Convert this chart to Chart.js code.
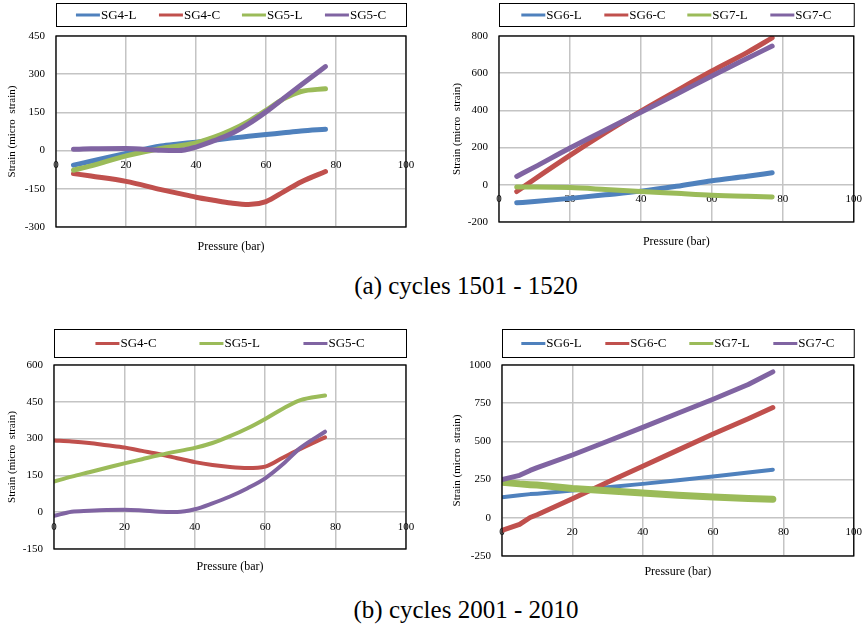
<!DOCTYPE html>
<html>
<head>
<meta charset="utf-8">
<script src="https://cdn.jsdelivr.net/npm/chart.js@4.4.1/dist/chart.umd.min.js"></script>
<style>
body{margin:0;background:#fff;width:865px;height:628px;position:relative;overflow:hidden;font-family:"Liberation Serif",serif}
canvas{position:absolute}
.cap{position:absolute;left:466px;transform:translateX(-50%);font-size:25px;line-height:28px;white-space:nowrap;color:#000}
</style>
</head>
<body>
<canvas id="c1" width="430" height="258" style="left:0;top:0"></canvas>
<canvas id="c2" width="425" height="258" style="left:445px;top:0"></canvas>
<div class="cap" style="top:272px">(a) cycles 1501 - 1520</div>
<canvas id="c3" width="430" height="285" style="left:0;top:300px"></canvas>
<canvas id="c4" width="425" height="285" style="left:445px;top:300px"></canvas>
<div class="cap" style="top:596px">(b) cycles 2001 - 2010</div>
<script>
// data
// (a) cycles 1501 - 1520
const pressA = [5, 10, 20, 30, 35, 40, 45, 50, 55, 60, 65, 70, 77];
const sg4L_a = [-57, -42, -11, 18, 26, 33, 41, 49, 56, 63, 70, 77, 84];
const sg4C_a = [-90, -100, -121, -153, -168, -183, -195, -206, -212, -200, -162, -123, -82];
const sg5L_a = [-77, -60, -21, 8, 18, 30, 52, 80, 115, 158, 203, 232, 243];
const sg5C_a = [5, 7, 8, 1, 0, 14, 38, 66, 105, 152, 205, 258, 330];

const pressA2 = [5, 10, 20, 30, 40, 50, 60, 70, 77];
const sg6L_a = [-97, -90, -73, -54, -34, -8, 22, 46, 65];
const sg6C_a = [-36, 30, 158, 280, 396, 505, 612, 712, 790];
const sg7L_a = [-12, -12, -15, -25, -36, -46, -56, -62, -65];
const sg7C_a = [45, 95, 198, 295, 390, 487, 585, 680, 746];

// (b) cycles 2001 - 2010
const pressB = [0, 5, 10, 15, 20, 25, 30, 35, 40, 45, 50, 55, 60, 65, 70, 77];
const sg4C_b = [292, 288, 282, 273, 264, 250, 236, 220, 204, 192, 184, 180, 186, 222, 258, 305];
const sg5L_b = [125, 145, 163, 181, 199, 216, 233, 248, 262, 282, 310, 342, 380, 422, 457, 476];
const sg5C_b = [-15, 2, 6, 9, 10, 7, 2, 1, 12, 36, 64, 98, 138, 195, 262, 328];

const pressB2 = [0, 5, 8, 10, 20, 30, 40, 50, 60, 70, 77];
const sg6L_b = [135, 148, 155, 158, 178, 200, 222, 246, 270, 296, 315];
const sg6C_b = [-83, -43, 2, 20, 125, 232, 338, 443, 548, 648, 722];
const sg7L_b = [233, 222, 217, 214, 192, 177, 163, 148, 136, 127, 122];
const sg7C_b = [250, 278, 310, 328, 411, 501, 592, 684, 776, 872, 955];

const xTicks = [0, 20, 40, 60, 80, 100];
const yTicksA1 = [-300, -150, 0, 150, 300, 450];
const yTicksA2 = [-200, 0, 200, 400, 600, 800];
const yTicksB1 = [-150, 0, 150, 300, 450, 600];
const yTicksB2 = [-250, 0, 250, 500, 750, 1000];

const BLUE = '#4F81BD', RED = '#C0504D', GREEN = '#9BBB59', PURPLE = '#8064A2';
const FONT = '"Liberation Serif", "Times New Roman", serif';

// plot border, legend box and x title (excel style)
const frame = {
  id: 'frame',
  afterDraw(chart, args, o) {
    const ctx = chart.ctx, a = chart.chartArea;
    ctx.save();
    ctx.strokeStyle = '#000';
    ctx.lineWidth = 1.3;
    ctx.strokeRect(a.left, a.top, a.right - a.left, a.bottom - a.top);

    ctx.fillStyle = '#000';
    ctx.font = '12px ' + FONT;
    ctx.textAlign = 'center';
    ctx.textBaseline = 'middle';
    ctx.fillText('Pressure (bar)', (a.left + a.right) / 2, a.bottom + o.titleGap);

    ctx.lineWidth = 1;
    ctx.strokeRect(Math.round(a.left) + 0.5, o.legTop + 0.5, a.right - a.left, o.legH);
    ctx.font = '13px ' + FONT;
    ctx.textAlign = 'left';
    const ds = chart.data.datasets;
    const lastW = 25 + ctx.measureText(ds[ds.length - 1].label).width;
    let x = (a.left + a.right) / 2 - ((ds.length - 1) * o.step + lastW) / 2;
    const y = o.legTop + o.legH / 2 + 0.5;
    ds.forEach(d => {
      ctx.strokeStyle = d.borderColor;
      ctx.lineWidth = 3;
      ctx.beginPath();
      ctx.moveTo(x, y);
      ctx.lineTo(x + 24, y);
      ctx.stroke();
      ctx.fillText(d.label, x + 25, y + 0.5);
      x += o.step;
    });
    ctx.restore();
  }
};

function makeChart(id, press, series, s) {
  const datasets = series.map((sr, i) => ({
    label: sr.label,
    data: sr.values.map((v, k) => ({x: press[k], y: v})),
    borderColor: sr.color,
    backgroundColor: sr.color,
    borderWidth: sr.width || 5,
    borderCapStyle: 'round',
    borderJoinStyle: 'round',
    showLine: true,
    pointRadius: 0,
    cubicInterpolationMode: s.smooth ? 'monotone' : 'default',
    tension: 0,
    order: series.length - i
  }));
  return new Chart(document.getElementById(id), {
    type: 'scatter',
    data: {datasets: datasets},
    plugins: [frame],
    options: {
      responsive: false,
      animation: false,
      layout: {padding: s.pad},
      plugins: {
        legend: {display: false},
        tooltip: {enabled: false},
        frame: {legTop: s.legTop, legH: s.legH, step: s.step, titleGap: s.titleGap}
      },
      scales: {
        x: {
          type: 'linear', min: 0, max: 100,
          position: {y: 0},
          afterBuildTicks: sc => { sc.ticks = xTicks.map(v => ({value: v})); },
          border: {display: false},
          grid: {color: '#c4c4c4', lineWidth: 1.5, drawTicks: false},
          ticks: {color: '#000', padding: 8, autoSkip: false, font: {family: FONT, size: 11}}
        },
        y: {
          min: s.yMin, max: s.yMax,
          afterBuildTicks: sc => { sc.ticks = s.yTicks.map(v => ({value: v})); },
          afterFit: sc => { sc.width = s.yW; },
          border: {display: false},
          grid: {color: '#c4c4c4', lineWidth: 1.5, drawTicks: false},
          ticks: {color: '#000', padding: 11, autoSkip: false, font: {family: FONT, size: 11}, callback: v => String(v)},
          title: {display: true, text: 'Strain (micro  strain)', color: '#000', padding: {top: 6, bottom: 0}, font: {family: FONT, size: 11}}
        }
      }
    }
  });
}

makeChart('c1', pressA, [
  {label: 'SG4-L', values: sg4L_a, color: BLUE},
  {label: 'SG4-C', values: sg4C_a, color: RED},
  {label: 'SG5-L', values: sg5L_a, color: GREEN},
  {label: 'SG5-C', values: sg5C_a, color: PURPLE}
], {pad: {left: 0, top: 36, right: 24, bottom: 31}, yW: 56, yMin: -300, yMax: 450, yTicks: yTicksA1,
    legTop: 3, legH: 23, step: 83, titleGap: 20, smooth: true});

makeChart('c2', pressA2, [
  {label: 'SG6-L', values: sg6L_a, color: BLUE},
  {label: 'SG6-C', values: sg6C_a, color: RED},
  {label: 'SG7-L', values: sg7L_a, color: GREEN},
  {label: 'SG7-C', values: sg7C_a, color: PURPLE}
], {pad: {left: 0, top: 36, right: 12, bottom: 36}, yW: 54, yMin: -200, yMax: 800, yTicks: yTicksA2,
    legTop: 3, legH: 23, step: 83, titleGap: 20, smooth: true});

makeChart('c3', pressB, [
  {label: 'SG4-C', values: sg4C_b, color: RED, width: 4},
  {label: 'SG5-L', values: sg5L_b, color: GREEN, width: 4},
  {label: 'SG5-C', values: sg5C_b, color: PURPLE, width: 4}
], {pad: {left: 0, top: 65, right: 24, bottom: 36}, yW: 54, yMin: -150, yMax: 600, yTicks: yTicksB1,
    legTop: 29, legH: 28, step: 104, titleGap: 18, smooth: true});

makeChart('c4', pressB2, [
  {label: 'SG6-L', values: sg6L_b, color: BLUE, width: 4},
  {label: 'SG6-C', values: sg6C_b, color: RED},
  {label: 'SG7-L', values: sg7L_b, color: GREEN, width: 7},
  {label: 'SG7-C', values: sg7C_b, color: PURPLE}
], {pad: {left: 0, top: 65, right: 11, bottom: 29}, yW: 57, yMin: -250, yMax: 1000, yTicks: yTicksB2,
    legTop: 29, legH: 28, step: 84, titleGap: 16, smooth: false});
</script>
</body>
</html>
